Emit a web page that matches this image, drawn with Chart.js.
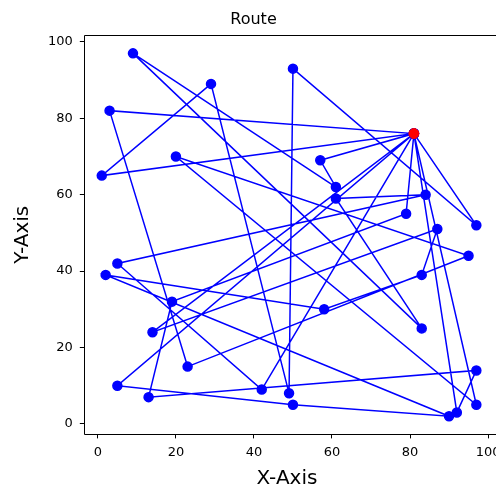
<!DOCTYPE html>
<html>
<head>
<meta charset="utf-8">
<script src="https://cdn.jsdelivr.net/npm/chart.js@4.4.1/dist/chart.umd.min.js"></script>
<style>
  html, body { margin: 0; padding: 0; background: #fff; }
  #wrap { width: 496px; height: 488px; }
</style>
</head>
<body>
<div id="wrap"><canvas id="route"></canvas></div>
<script>
// depot (red point)
var depotX = [81];
var depotY = [76];

// route visiting order, depot repeated between the tours
var routeX = [81, 97, 50, 49, 29, 1, 81,
              97, 20, 95, 23, 3, 81,
              57, 61, 9, 83, 61, 84, 5, 42, 81,
              14, 87, 83, 58, 2, 90, 50, 5, 81,
              92, 97, 13, 19, 79, 81];
var routeY = [76, 52, 93, 8, 89, 65, 76,
              5, 70, 44, 15, 82, 76,
              69, 62, 97, 25, 59, 60, 42, 9, 76,
              24, 51, 39, 30, 39, 2, 5, 10, 76,
              3, 14, 7, 32, 55, 76];

var routePoints = [];
for (let i = 0; i < routeX.length; i++) {
    routePoints.push({x: routeX[i], y: routeY[i]});
}
var depotPoints = [];
for (let i = 0; i < depotX.length; i++) {
    depotPoints.push({x: depotX[i], y: depotY[i]});
}

// matplotlib style frame; the right spine falls outside the picture
var frameBox = {
    id: 'frameBox',
    afterDraw(chart) {
        const a = chart.chartArea;
        const c = chart.ctx;
        const l = Math.round(a.left) + 0.5;
        const t = Math.round(a.top) + 0.5;
        const b = Math.round(a.bottom) + 0.5;
        c.save();
        c.strokeStyle = '#000';
        c.lineWidth = 1;
        c.beginPath();
        c.moveTo(l, b);
        c.lineTo(l, t);
        c.lineTo(chart.width, t);
        c.moveTo(l, b);
        c.lineTo(chart.width, b);
        c.stroke();
        c.restore();
    }
};

Chart.defaults.font.family = "'DejaVu Sans', sans-serif";
Chart.defaults.color = '#000';

const ctx = document.getElementById('route').getContext('2d');
var chartId = new Chart(ctx, {
    type: 'scatter',
    data: {
        datasets: [{
            data: depotPoints,
            backgroundColor: '#ff0000',
            borderColor: '#ff0000',
            pointRadius: 5,
            pointHoverRadius: 5,
            showLine: false
        }, {
            data: routePoints,
            showLine: true,
            borderColor: '#0000ff',
            backgroundColor: '#0000ff',
            borderWidth: 1.5,
            pointRadius: 4.5,
            pointHoverRadius: 4.5,
            tension: 0
        }]
    },
    options: {
        responsive: true,
        maintainAspectRatio: false,
        animation: false,
        layout: {
            padding: {left: 11, right: 0, top: 4, bottom: -3}
        },
        scales: {
            x: {
                type: 'linear',
                min: -3.6,
                max: 100.5,
                afterFit: (scale) => {
                    scale.paddingRight = 0;
                    scale.paddingLeft = 0;
                },
                ticks: {
                    stepSize: 20,
                    includeBounds: false,
                    font: {size: 13},
                    padding: 6
                },
                grid: {
                    drawOnChartArea: false,
                    color: '#000',
                    tickLength: 4
                },
                border: {display: false},
                title: {
                    display: true,
                    text: 'X-Axis',
                    font: {size: 20},
                    padding: {top: 1, bottom: 0}
                }
            },
            y: {
                type: 'linear',
                min: -2.75,
                max: 101.75,
                ticks: {
                    stepSize: 20,
                    includeBounds: false,
                    font: {size: 13},
                    padding: 7
                },
                grid: {
                    drawOnChartArea: false,
                    color: '#000',
                    tickLength: 4
                },
                border: {display: false},
                title: {
                    display: true,
                    text: 'Y-Axis',
                    font: {size: 20},
                    padding: {top: 0, bottom: 6}
                }
            }
        },
        plugins: {
            legend: {display: false},
            tooltip: {enabled: false},
            title: {
                display: true,
                text: 'Route',
                font: {size: 16, weight: 'normal'},
                padding: {top: 6, bottom: 6}
            }
        }
    },
    plugins: [frameBox]
});
</script>
</body>
</html>
